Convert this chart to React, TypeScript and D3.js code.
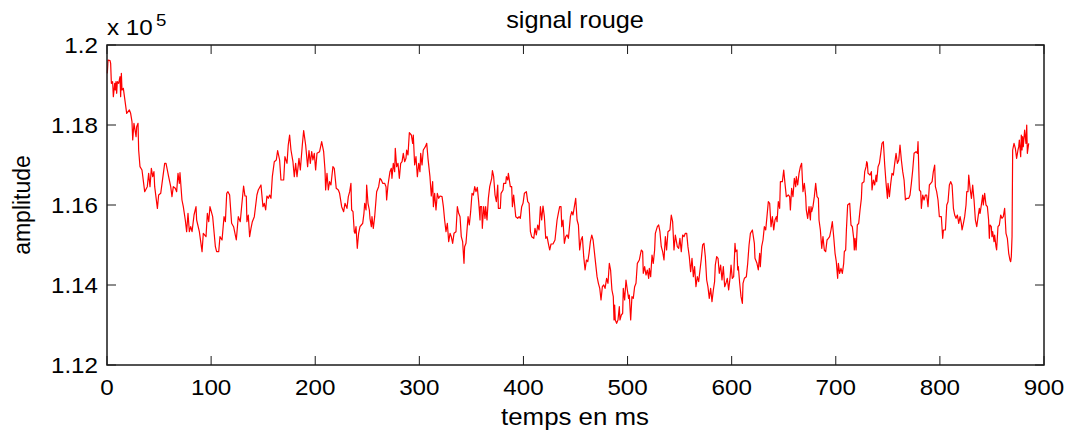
import React from 'react';
import * as d3 from 'd3';

const chartTitle = 'signal rouge';
const xAxisLabel = 'temps en ms';
const yAxisLabel = 'amplitude';
const xTicks = [0, 100, 200, 300, 400, 500, 600, 700, 800, 900];
const yTicks = [112000, 114000, 116000, 118000, 120000];
const yTickLabels = ['1.12', '1.14', '1.16', '1.18', '1.2'];
const yMultiplierBase = 'x 10';
const yMultiplierExp = '5';

// [time in ms, amplitude]
const signal: [number, number][] = [
  [0.3, 119290], [1.0, 119625], [2.9, 119608], [3.5, 119542], [4.2, 119042], [5.4, 119083], [6.1, 118708], [7.4, 119042],
  [8.0, 118875], [8.6, 119083], [9.3, 118792], [9.9, 119083], [11.2, 119042], [12.5, 119208], [13.1, 118708], [13.8, 119292],
  [14.4, 118875], [15.7, 118917], [18.9, 118292], [21.5, 118375], [22.7, 118292], [24.0, 118083], [24.7, 117625], [25.9, 118042],
  [27.9, 117708], [28.5, 117958], [29.8, 118042], [30.4, 117375], [31.7, 116958], [33.6, 116875], [36.2, 116333], [38.7, 116458],
  [40.0, 116792], [41.3, 116458], [42.6, 116917], [43.9, 116708], [45.1, 116833], [45.8, 116458], [48.4, 115917], [49.6, 116250],
  [51.6, 116292], [55.4, 117042], [56.7, 117042], [59.2, 116708], [61.2, 116458], [62.4, 116208], [63.7, 116458], [65.6, 116417],
  [66.9, 116333], [68.2, 116792], [69.5, 116542], [70.1, 116808], [72.0, 116125], [73.3, 115958], [75.2, 115625], [76.5, 115333],
  [77.8, 115792], [79.1, 115333], [80.4, 115458], [81.7, 115333], [83.6, 115750], [85.5, 115958], [86.1, 115625], [88.7, 115333],
  [91.3, 114833], [92.5, 115292], [95.1, 115208], [96.4, 115792], [97.7, 115583], [98.9, 115958], [101.5, 115708], [104.1, 114958],
  [105.3, 114833], [107.3, 114833], [108.5, 115208], [110.5, 115125], [112.4, 115708], [113.7, 115583], [115.0, 116292], [116.2, 116333],
  [117.8, 116250], [119.7, 115542], [121.6, 115458], [124.2, 115125], [126.1, 115708], [128.0, 115583], [129.3, 115958], [131.2, 116475],
  [132.5, 116225], [133.8, 116225], [134.4, 115583], [135.7, 115750], [137.0, 115208], [138.3, 115417], [139.6, 115583], [141.5, 115708],
  [144.0, 116250], [145.3, 116375], [147.9, 116500], [149.8, 115958], [151.1, 116042], [152.4, 115875], [153.6, 116225], [154.9, 116167],
  [156.2, 116250], [157.5, 116167], [158.8, 116708], [160.7, 117083], [162.6, 117125], [163.9, 117358], [165.8, 117125], [167.1, 116625],
  [169.7, 116625], [170.9, 117208], [172.9, 117042], [174.1, 117500], [175.4, 117750], [176.7, 117375], [178.6, 117083], [179.9, 116708],
  [181.2, 117042], [182.5, 116708], [184.4, 117167], [185.7, 116875], [187.6, 117500], [188.9, 117858], [190.8, 117500], [192.7, 116958],
  [194.0, 117358], [195.3, 117042], [196.6, 117333], [197.8, 117125], [199.1, 117292], [200.4, 116875], [201.7, 117292], [204.2, 117333],
  [206.2, 117583], [208.1, 117333], [209.4, 116875], [210.0, 116375], [211.3, 116792], [212.6, 116375], [213.8, 116583], [215.1, 116500],
  [217.0, 116958], [218.3, 116917], [220.2, 116417], [222.2, 116375], [223.4, 116292], [225.4, 115958], [227.3, 115833], [228.6, 116042],
  [230.5, 115917], [231.8, 116208], [233.1, 116333], [234.3, 116542], [235.0, 115875], [236.3, 115833], [237.5, 115333], [238.2, 115292],
  [239.2, 115458], [240.4, 114917], [241.7, 115292], [243.0, 115458], [244.3, 115500], [245.6, 115542], [246.8, 115792], [247.5, 116042],
  [248.8, 115875], [249.4, 116500], [250.7, 116042], [252.0, 115875], [252.6, 115667], [253.9, 115458], [254.5, 115708], [255.8, 115417],
  [257.1, 115708], [259.0, 116333], [260.9, 116458], [262.2, 116667], [263.5, 116625], [264.8, 116542], [266.7, 116542], [268.0, 116458],
  [268.6, 116125], [269.9, 116500], [271.8, 116833], [273.1, 116917], [273.7, 116667], [275.0, 117042], [276.3, 116833], [276.9, 117417],
  [278.2, 116958], [279.5, 117042], [280.8, 116667], [282.1, 117042], [283.4, 117083], [284.6, 117292], [285.9, 117083], [287.2, 117167],
  [287.8, 117375], [289.1, 117250], [290.4, 117808], [292.3, 117750], [293.6, 117542], [294.2, 117750], [295.5, 117000], [296.8, 117208],
  [298.1, 116708], [299.4, 117042], [300.6, 116833], [301.3, 117292], [302.6, 117000], [303.8, 117375], [305.8, 117458], [307.1, 117542],
  [308.3, 117167], [310.2, 116708], [311.5, 116225], [312.8, 116583], [313.5, 115958], [314.7, 116292], [316.0, 115875], [317.3, 116292],
  [318.6, 116167], [319.9, 116225], [321.8, 116208], [323.1, 115958], [324.3, 115625], [325.6, 115333], [326.9, 115542], [328.2, 115083],
  [329.5, 115292], [330.7, 115208], [332.0, 115042], [333.3, 115292], [335.2, 115333], [336.5, 115958], [337.8, 115792], [339.1, 115708],
  [340.3, 115208], [341.6, 115083], [342.9, 114542], [343.5, 114958], [344.8, 115042], [346.8, 115708], [348.0, 115500], [349.3, 115833],
  [350.6, 116292], [351.9, 116250], [353.2, 116458], [354.4, 116333], [355.7, 116442], [357.0, 116083], [358.3, 115625], [358.6, 115958],
  [359.9, 115958], [360.5, 115417], [361.8, 115958], [363.1, 115667], [363.7, 115958], [365.0, 115625], [366.3, 116167], [367.6, 116458],
  [369.5, 116667], [370.2, 116858], [371.4, 116708], [372.7, 116250], [374.0, 116083], [375.3, 116500], [375.9, 115917], [377.8, 115917],
  [378.5, 116292], [380.4, 116375], [381.0, 116542], [383.0, 116542], [383.6, 116708], [384.9, 116625], [385.5, 116792], [387.4, 116458],
  [388.7, 116458], [389.4, 115958], [390.6, 116250], [392.6, 115708], [394.5, 115667], [395.8, 115708], [397.0, 115667], [398.3, 115958],
  [399.6, 116042], [400.9, 116292], [402.8, 116333], [404.1, 116083], [405.4, 116042], [406.7, 115333], [407.9, 115208], [409.9, 115167],
  [411.1, 115417], [412.4, 115250], [413.7, 115500], [415.0, 115375], [416.3, 115958], [417.5, 115625], [418.8, 115975], [420.1, 115708],
  [421.4, 115167], [422.7, 115208], [423.9, 115042], [425.2, 114875], [426.5, 115025], [428.4, 115025], [430.3, 115125], [432.3, 115625],
  [433.5, 115792], [434.8, 115958], [436.1, 115958], [436.8, 115458], [438.0, 115625], [439.3, 115042], [440.6, 115208], [441.9, 115250],
  [443.2, 115167], [445.1, 115708], [446.4, 115833], [447.6, 115750], [448.9, 115958], [450.2, 116167], [451.5, 115625], [452.8, 115500],
  [454.0, 114875], [455.3, 115125], [456.6, 115208], [457.9, 114708], [459.2, 114375], [460.5, 114625], [461.8, 114583], [463.0, 114792],
  [464.3, 115083], [465.6, 115250], [466.9, 115125], [468.8, 114667], [470.7, 114208], [472.0, 114042], [473.3, 113917], [474.5, 113625],
  [475.8, 113958], [477.1, 114000], [478.4, 113917], [479.9, 114167], [481.2, 114042], [482.5, 114542], [483.7, 114375], [485.0, 113875],
  [486.3, 113708], [487.0, 113125], [487.6, 113500], [488.2, 113125], [489.5, 113042], [490.8, 113125], [492.1, 113458], [492.7, 113125],
  [494.0, 113250], [495.3, 113292], [495.9, 113917], [497.2, 113625], [498.5, 114125], [499.8, 113875], [501.0, 113667], [501.7, 113750],
  [503.0, 113125], [504.2, 113708], [505.5, 113667], [506.8, 113958], [508.1, 114042], [509.4, 114542], [511.3, 114625], [513.2, 114875],
  [514.5, 114833], [515.1, 114292], [516.4, 114458], [517.7, 114250], [519.0, 114375], [520.3, 114167], [520.9, 114417], [522.2, 114208],
  [523.5, 114750], [524.7, 114542], [526.0, 114875], [526.7, 115292], [528.6, 115458], [529.9, 115500], [531.1, 115333], [532.4, 114958],
  [533.7, 114833], [535.0, 114625], [536.3, 115208], [537.5, 114875], [538.8, 115333], [540.7, 115375], [542.0, 115750], [543.3, 115583],
  [544.6, 114875], [545.9, 115250], [547.8, 114958], [549.1, 114917], [550.3, 115167], [551.6, 114833], [552.9, 115250], [554.2, 115208],
  [555.5, 115292], [556.8, 115292], [558.0, 114958], [559.3, 114708], [560.6, 114333], [561.9, 114667], [563.2, 114208], [564.4, 114458],
  [565.7, 113958], [567.0, 114208], [568.3, 114083], [569.6, 114375], [570.9, 114667], [572.1, 115000], [573.4, 115042], [574.7, 114708],
  [576.0, 114125], [577.2, 113958], [578.5, 113667], [579.8, 113917], [581.1, 113583], [582.4, 113875], [583.6, 114083], [584.3, 114500],
  [585.6, 114708], [586.9, 114667], [588.1, 114292], [589.4, 114500], [590.7, 114125], [592.0, 114458], [593.3, 113958], [594.5, 114042],
  [595.8, 114167], [597.1, 113875], [598.4, 114167], [599.4, 114500], [600.6, 114167], [601.9, 114208], [603.2, 115042], [603.8, 114833],
  [605.1, 114875], [605.8, 114375], [606.4, 114458], [607.7, 114042], [609.0, 113708], [610.3, 113542], [610.9, 114042], [612.2, 114167],
  [614.1, 114208], [615.4, 114542], [616.7, 115000], [618.0, 115292], [619.9, 115375], [621.8, 115042], [622.4, 114667], [624.3, 114542],
  [625.6, 114375], [626.9, 114792], [627.5, 114458], [628.8, 114958], [630.1, 115125], [631.4, 115458], [632.7, 115375], [633.9, 115708],
  [635.2, 116083], [636.5, 116042], [637.8, 115458], [639.1, 115708], [640.4, 115375], [641.6, 115625], [642.9, 115708], [643.6, 115583],
  [644.8, 116083], [646.1, 115917], [646.8, 116583], [648.7, 116583], [650.0, 116875], [651.2, 116542], [652.5, 116208], [654.4, 116250],
  [655.7, 116208], [656.4, 115875], [657.6, 116417], [658.9, 116208], [660.2, 116667], [661.5, 116458], [662.1, 116708], [663.4, 116500],
  [664.7, 116792], [666.0, 116958], [667.2, 117042], [668.5, 116333], [669.8, 116542], [671.1, 116208], [671.7, 115875], [673.0, 115667],
  [674.3, 115958], [675.6, 115625], [676.2, 115958], [676.9, 115833], [678.1, 115958], [679.4, 116208], [680.7, 116542], [682.0, 116208],
  [683.3, 116167], [683.9, 115625], [685.2, 115375], [686.5, 114917], [687.7, 115208], [689.0, 114875], [690.3, 114833], [691.6, 115125],
  [692.9, 115167], [694.1, 115208], [695.4, 115375], [696.7, 115583], [698.0, 115208], [699.3, 114792], [700.5, 114583], [701.8, 114167],
  [702.5, 114542], [703.7, 114292], [705.0, 114417], [706.3, 114292], [707.6, 114542], [708.2, 114833], [709.5, 114875], [710.2, 115375],
  [711.4, 116000], [713.4, 116042], [714.6, 115500], [715.9, 115458], [717.2, 115167], [717.8, 114875], [718.5, 115167], [719.5, 114875],
  [720.7, 115500], [722.0, 115542], [723.3, 115875], [724.6, 116167], [725.2, 116542], [727.1, 116583], [727.8, 116833], [729.1, 116958],
  [729.7, 117083], [730.3, 117042], [731.0, 116792], [732.9, 116750], [734.2, 116833], [734.8, 116375], [736.1, 116625], [737.4, 116500],
  [738.7, 116750], [739.3, 116583], [740.6, 116958], [741.9, 117042], [743.2, 117292], [744.4, 117542], [745.7, 117583], [747.0, 117000],
  [748.3, 116542], [749.6, 116167], [750.2, 116542], [751.5, 116208], [752.8, 116542], [754.0, 116792], [755.3, 116750], [756.6, 117042],
  [757.9, 117292], [759.2, 117042], [760.5, 117125], [761.7, 117500], [763.0, 117125], [764.3, 116833], [765.6, 116625], [766.9, 116125],
  [768.1, 116167], [770.1, 116167], [771.3, 116250], [772.6, 116542], [773.9, 116875], [775.2, 117292], [777.1, 117333], [778.4, 117292],
  [779.0, 117583], [780.3, 116375], [781.6, 116333], [782.2, 115917], [783.5, 116250], [784.8, 116125], [786.1, 116250], [787.3, 116250],
  [788.6, 115958], [789.9, 116500], [791.2, 116542], [792.5, 116583], [793.7, 116833], [795.0, 117000], [795.7, 116458], [796.9, 116333],
  [798.2, 116125], [799.5, 115708], [801.4, 115708], [802.7, 115167], [803.4, 115375], [805.3, 115375], [806.6, 116000], [807.8, 116083],
  [809.1, 116500], [810.4, 116583], [811.7, 116500], [813.0, 115917], [814.2, 115750], [815.5, 115667], [816.8, 115750], [818.1, 115542],
  [819.4, 115708], [820.6, 115542], [821.3, 115375], [822.6, 115542], [823.8, 115708], [825.1, 116000], [825.8, 116333], [827.0, 116333],
  [827.7, 116750], [829.0, 116417], [830.3, 116167], [831.5, 116500], [832.8, 116125], [834.1, 115625], [835.4, 115458], [836.7, 115708],
  [837.9, 115917], [838.6, 115792], [839.8, 116000], [841.1, 116250], [841.7, 116000], [843.0, 116292], [844.3, 116000], [845.6, 115958],
  [846.8, 115625], [847.5, 115167], [848.1, 115500], [849.4, 115458], [850.0, 115208], [850.7, 115333], [852.0, 115083], [852.6, 115250],
  [853.9, 114958], [854.5, 114875], [855.8, 115458], [857.1, 115500], [858.4, 115750], [859.6, 115667], [860.9, 115708], [862.2, 115917],
  [863.5, 115292], [864.8, 115167], [866.1, 114792], [867.3, 114625], [868.0, 114583], [868.6, 114708], [869.3, 115208], [869.9, 117375],
  [871.2, 117542], [872.5, 117417], [873.7, 117167], [875.0, 117375], [875.7, 117458], [876.3, 117625], [877.6, 117208], [878.2, 117750],
  [878.9, 117375], [879.5, 117708], [880.1, 117458], [881.4, 117875], [882.7, 117542], [883.4, 118000], [884.0, 117292], [885.3, 117542],
];

const FONT = '"Liberation Sans", Arial, Helvetica, sans-serif';
const SX = 1.1;

function StretchText(props: { x: number; y: number; size: number; anchor?: string; children: React.ReactNode }) {
  const { x, y, size, anchor = 'middle', children } = props;
  return (
    <g transform={`translate(${x},${y}) scale(${SX},1)`}>
      <text x={0} y={0} fontSize={size} textAnchor={anchor} fontFamily={FONT} fill="#000">
        {children}
      </text>
    </g>
  );
}

export default function App() {
  const W = 1072;
  const H = 432;
  const left = 107;
  const right = 1044;
  const top = 45;
  const bottom = 365;
  const x = d3.scaleLinear().domain([0, 900]).range([left, right]);
  const y = d3.scaleLinear().domain([112000, 120000]).range([bottom, top]);
  const line = d3
    .line<[number, number]>()
    .x((d) => x(d[0]))
    .y((d) => y(d[1]));
  const tickLen = 9;
  const axisColor = '#1a1a1a';

  return (
    <svg
      width={W}
      height={H}
      style={{ position: 'absolute', left: 0, top: 0, background: '#fff' }}
      xmlns="http://www.w3.org/2000/svg"
    >
      <rect x={0} y={0} width={W} height={H} fill="#fff" />
      <path d={line(signal) || ''} fill="none" stroke="#ff0000" strokeWidth={1.2} strokeLinejoin="round" />
      <rect x={left} y={top} width={right - left} height={bottom - top} fill="none" stroke={axisColor} strokeWidth={1.5} />
      {xTicks.map((t) => (
        <g key={'xt' + t}>
          <line x1={x(t)} x2={x(t)} y1={bottom} y2={bottom - tickLen} stroke={axisColor} strokeWidth={1} />
          <line x1={x(t)} x2={x(t)} y1={top} y2={top + tickLen} stroke={axisColor} strokeWidth={1} />
          <StretchText x={x(t)} y={395} size={22}>
            {String(t)}
          </StretchText>
        </g>
      ))}
      {yTicks.map((v, i) => (
        <g key={'yt' + v}>
          <line x1={left} x2={left + tickLen} y1={y(v)} y2={y(v)} stroke={axisColor} strokeWidth={1} />
          <line x1={right} x2={right - tickLen} y1={y(v)} y2={y(v)} stroke={axisColor} strokeWidth={1} />
          <StretchText x={98} y={y(v) + 8} size={22} anchor="end">
            {yTickLabels[i]}
          </StretchText>
        </g>
      ))}
      <StretchText x={107} y={35} size={22} anchor="start">
        {yMultiplierBase}
      </StretchText>
      <StretchText x={156} y={26} size={17} anchor="start">
        {yMultiplierExp}
      </StretchText>
      <StretchText x={575} y={28} size={23}>
        {chartTitle}
      </StretchText>
      <StretchText x={575} y={425} size={23.5}>
        {xAxisLabel}
      </StretchText>
      <text
        transform={`translate(30,${(top + bottom) / 2}) rotate(-90)`}
        fontSize={23}
        textAnchor="middle"
        fontFamily={FONT}
        fill="#000"
      >
        {yAxisLabel}
      </text>
    </svg>
  );
}
